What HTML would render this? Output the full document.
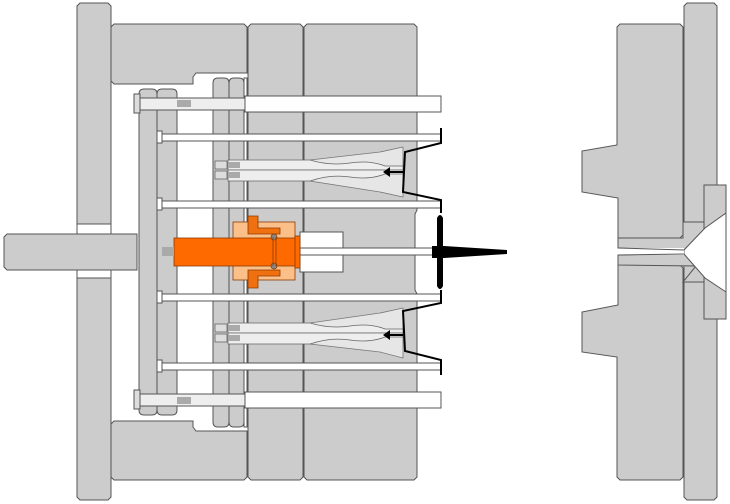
<!DOCTYPE html>
<html><head><style>html,body{margin:0;padding:0;background:#fff}svg{display:block}</style></head><body>
<svg width="730" height="504" viewBox="0 0 730 504" xmlns="http://www.w3.org/2000/svg">
<g fill="#cccccc" stroke="#555" stroke-width="1">
<path d="M80,3 H108 L111,6 V224 H77 V6 Z"/>
<path d="M77,278 H111 V497 L108,500 H80 L77,497 Z"/>
<rect x="77" y="224" width="34" height="54" fill="#fff"/>
<path d="M7,234 H137 V270 H7 L4,267 V237 Z"/>
<path d="M114,24 H244 L247,27 V73 H196 L193,77 V84 H114 L111,81 V27 Z"/>
<path d="M114,480 H244 L247,477 V431 H196 L193,427 V421 H114 L111,424 V477 Z"/>
<path d="M251,24 H300 L303,27 V477 L300,480 H251 L248,477 V27 Z"/>
<path d="M307,24 H414 L417,27 V210 L415,214 V290 L417,294 V477 L414,480 H307 L304,477 V27 Z"/>
<path d="M139,94 Q139,89 144,89 H152 Q157,89 157,94 V410 Q157,415 152,415 H144 Q139,415 139,410 Z"/>
<path d="M157,94 Q157,89 162,89 H172 Q177,89 177,94 V410 Q177,415 172,415 H162 Q157,415 157,410 Z"/>
<path d="M213,83 Q213,78 218,78 H224 Q229,78 229,83 V422 Q229,427 224,427 H218 Q213,427 213,422 Z"/>
<path d="M229,83 Q229,78 234,78 H239 Q244,78 244,83 V422 Q244,427 239,427 H234 Q229,427 229,422 Z"/>
<rect x="244" y="78" width="3" height="349" fill="#fff"/>
</g>
<g fill="#e6e6e6" stroke="#777" stroke-width="0.8">
<path d="M310,160 L380,152 L403,147 L403,197 L380,192 L310,181 Z"/>
<path d="M310,323 L380,313 L403,308 L403,358 L380,352 L310,344 Z"/>
</g>
<g fill="#fff" stroke="#555" stroke-width="1">
<rect x="245" y="96" width="196" height="16"/>
<rect x="245" y="392" width="196" height="16"/>
<rect x="139" y="98" width="106" height="12" fill="#eee"/>
<rect x="139" y="394" width="106" height="12" fill="#eee"/>
<rect x="134" y="94" width="6" height="19" fill="#ddd"/>
<rect x="134" y="390" width="6" height="19" fill="#ddd"/>
</g>
<rect x="177" y="100" width="14" height="7" fill="#aaa"/>
<rect x="177" y="397" width="14" height="7" fill="#aaa"/>
<g fill="#fff" stroke="#555" stroke-width="1">
<rect x="158" y="134" width="283" height="7"/>
<rect x="158" y="201" width="283" height="7"/>
<rect x="158" y="294" width="283" height="7"/>
<rect x="158" y="363" width="283" height="7"/>
<rect x="157" y="131" width="5" height="12"/>
<rect x="157" y="198" width="5" height="12"/>
<rect x="157" y="291" width="5" height="12"/>
<rect x="157" y="360" width="5" height="12"/>
</g>
<g fill="#eee" stroke="#666" stroke-width="0.8">
<path d="M228,160 H310 Q330,166 350,163 Q370,160 385,166 L403,166 V170 H228 Z"/>
<path d="M228,170 H403 V174 L385,174 Q370,180 350,177 Q330,174 310,181 H228 Z"/>
<path d="M228,323 H310 Q330,329 350,326 Q370,323 385,329 L403,329 V333 H228 Z"/>
<path d="M228,333 H403 V337 L385,337 Q370,343 350,340 Q330,337 310,344 H228 Z"/>
<rect x="215" y="161" width="12" height="8" fill="#ddd"/><rect x="215" y="171" width="12" height="8" fill="#ddd"/>
<rect x="215" y="324" width="12" height="8" fill="#ddd"/><rect x="215" y="334" width="12" height="8" fill="#ddd"/>
</g>
<g fill="#aaa"><rect x="228" y="162" width="12" height="6"/><rect x="228" y="172" width="12" height="6"/><rect x="228" y="325" width="12" height="6"/><rect x="228" y="335" width="12" height="6"/></g>
<path d="M386,172 L403,172" stroke="#000" stroke-width="2"/><path d="M383,172 L390,167 L390,177 Z" fill="#000"/>
<path d="M386,335 L403,335" stroke="#000" stroke-width="2"/><path d="M383,335 L390,330 L390,340 Z" fill="#000"/>
<rect x="300" y="232" width="43" height="40" fill="#fff" stroke="#555"/>
<rect x="300" y="248" width="137" height="7" fill="#fff" stroke="#555"/>
<g stroke="#8a3a00" stroke-width="0.8">
<rect x="233" y="222" width="62" height="58" fill="#fbc08a"/>
<path d="M248,216 H258 V228 H280 V234 H248 Z M248,288 H258 V276 H280 V270 H248 Z" fill="#f07010"/>
<rect x="174" y="238" width="122" height="28" fill="#ff6a00"/>
<rect x="295" y="236" width="5" height="32" fill="#ff6a00"/>
<circle cx="274" cy="237" r="3" fill="#888"/><circle cx="274" cy="266" r="3" fill="#888"/>
<line x1="273" y1="237" x2="273" y2="266"/><line x1="276" y1="237" x2="276" y2="266"/>
</g>
<rect x="162" y="247" width="12" height="9" fill="#aaa"/>
<g fill="none" stroke="#000" stroke-width="2">
<path d="M441,128 V143 L405,152 L403,192 L441,200 V213"/>
<path d="M441,375 V360 L405,351 L403,311 L441,303 V290"/>
</g>
<path d="M437,218 Q440,212 443,218 V286 Q440,292 437,286 Z" fill="#000"/>
<path d="M432,246 H444 L507,250 V254 L444,258 H432 Z" fill="#000"/>
<g fill="#cccccc" stroke="#555" stroke-width="1">
<path d="M687,3 H714 L717,6 V497 L714,500 H687 L684,497 V6 Z"/>
<path d="M620,24 H680 L683,27 V235 L680,238 H618 V198 L582,192 V151 L617,145 V27 Z"/>
<path d="M620,480 H680 L683,477 V268 L680,265 H618 V305 L582,312 V352 L617,357 V477 Z"/>
<path d="M683,222 H705 V282 H683 L696,266 L618,265 V255 L682,253 L682,251 L618,248 V238 L683,238 Z" fill="#cccccc"/>
<rect x="704" y="185" width="22" height="134"/>
</g>
<path d="M705,228 L726,213 V292 L705,278 L684,254 V250 Z" fill="#fff" stroke="#555"/>
<rect x="618" y="248" width="66" height="7" fill="#fff"/>
<line x1="618" y1="248" x2="684" y2="250" stroke="#555"/>
<line x1="618" y1="255" x2="684" y2="254" stroke="#555"/>
</svg>
</body></html>
